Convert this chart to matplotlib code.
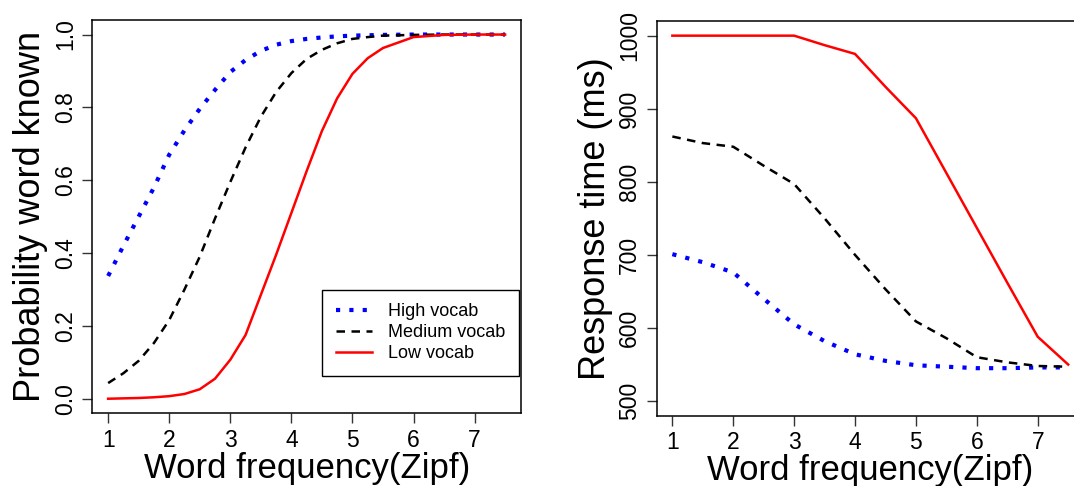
#!/usr/bin/env python

# Import required libraries
import matplotlib.pyplot as plt  # For plotting

plt.rcParams['font.family'] = ['Liberation Sans', 'DejaVu Sans']

# Left panel: probability that a word is known, per vocabulary group
zipf_left = [1, 1.25, 1.5, 1.75, 2, 2.25, 2.5, 2.75, 3, 3.25, 3.5, 3.75, 4,
             4.25, 4.5, 4.75, 5, 5.25, 5.5, 6, 6.5, 7, 7.5]
p_high = [0.337, 0.42, 0.50, 0.58, 0.67, 0.737, 0.796, 0.848, 0.897, 0.93, 0.955, 0.972,
          0.982, 0.988, 0.992, 0.995, 0.997, 0.998, 0.999, 1.0, 1.0, 1.0, 1.0]
p_medium = [0.043, 0.07, 0.104, 0.153, 0.216, 0.30, 0.39, 0.495, 0.595, 0.69, 0.774, 0.842,
            0.894, 0.933, 0.958, 0.976, 0.988, 0.993, 0.997, 0.999, 1.0, 1.0, 1.0]
p_low = [0.0, 0.001, 0.002, 0.004, 0.007, 0.013, 0.026, 0.055, 0.107, 0.175, 0.285, 0.395,
         0.51, 0.625, 0.735, 0.825, 0.892, 0.935, 0.963, 0.993, 0.999, 1.0, 1.0]

# Right panel: response time (ms), per vocabulary group
zipf_right = [1, 1.5, 2, 2.5, 3, 3.5, 4, 4.5, 5, 5.5, 6, 6.5, 7, 7.5]
rt_high = [701, 690, 676, 640, 605, 582, 564, 555, 549, 547, 545, 545, 546, 546]
rt_medium = [862, 853, 848, 822, 797, 750, 700, 653, 609, 586, 560, 553, 548, 547]
rt_low = [1000, 1000, 1000, 1000, 1000, 987, 975, 930, 887, 812, 737, 662, 588, 550]

labels = ["High vocab", "Medium vocab", "Low vocab"]
x_ticks = [1, 2, 3, 4, 5, 6, 7]

# Line styles in the style of R's lty 3 / 2 / 1
styles = [
    dict(color="#0000FF", lw=3, linestyle=(0, (1, 2.2))),
    dict(color="black", lw=1.8, linestyle=(0, (3.4, 2.6))),
    dict(color="#FF0000", lw=1.8, linestyle="-"),
]

fig = plt.figure(figsize=(10.74, 4.86), dpi=100)
ax1 = fig.add_axes([0.0859, 0.1496, 0.3992, 0.8093])
ax2 = fig.add_axes([0.6113, 0.1447, 0.398, 0.812])

for ys, st, lab in zip([p_high, p_medium, p_low], styles, labels):
    ax1.plot(zipf_left, ys, label=lab, **st)
for ys, st in zip([rt_high, rt_medium, rt_low], styles):
    ax2.plot(zipf_right, ys, **st)

ax1.set_xlim(0.74, 7.76)
ax1.set_ylim(-0.04, 1.04)
ax1.set_yticks([0.0, 0.2, 0.4, 0.6, 0.8, 1.0])
ax1.set_yticklabels(["0.0", "0.2", "0.4", "0.6", "0.8", "1.0"])
ax1.set_ylabel("Probability word known", fontsize=26, labelpad=4)

ax2.set_xlim(0.74, 7.76)
ax2.set_ylim(480, 1020)
ax2.set_yticks([500, 600, 700, 800, 900, 1000])
ax2.set_ylabel("Response time (ms)", fontsize=26, labelpad=4)

for ax in (ax1, ax2):
    ax.set_xticks(x_ticks)
    ax.set_xlabel("Word frequency(Zipf)", fontsize=25, labelpad=0)
    ax.tick_params(axis="both", labelsize=16.5, length=7, width=1, pad=4, color="#333333")
    for lbl in ax.get_yticklabels():
        lbl.set_rotation(90)
        lbl.set_va("center")
    for sp in ax.spines.values():
        sp.set_linewidth(1.1)

# Legend box inside the left panel, lower right
leg = ax1.legend(loc="upper left", bbox_to_anchor=(0.536, 0.314), fontsize=13,
                 frameon=True, fancybox=False, edgecolor="black", framealpha=1,
                 handlelength=2.0, handletextpad=0.9, labelspacing=0.22,
                 borderpad=0.75, borderaxespad=0)
leg.get_frame().set_linewidth(1.0)

plt.savefig("out.png", dpi=100)
